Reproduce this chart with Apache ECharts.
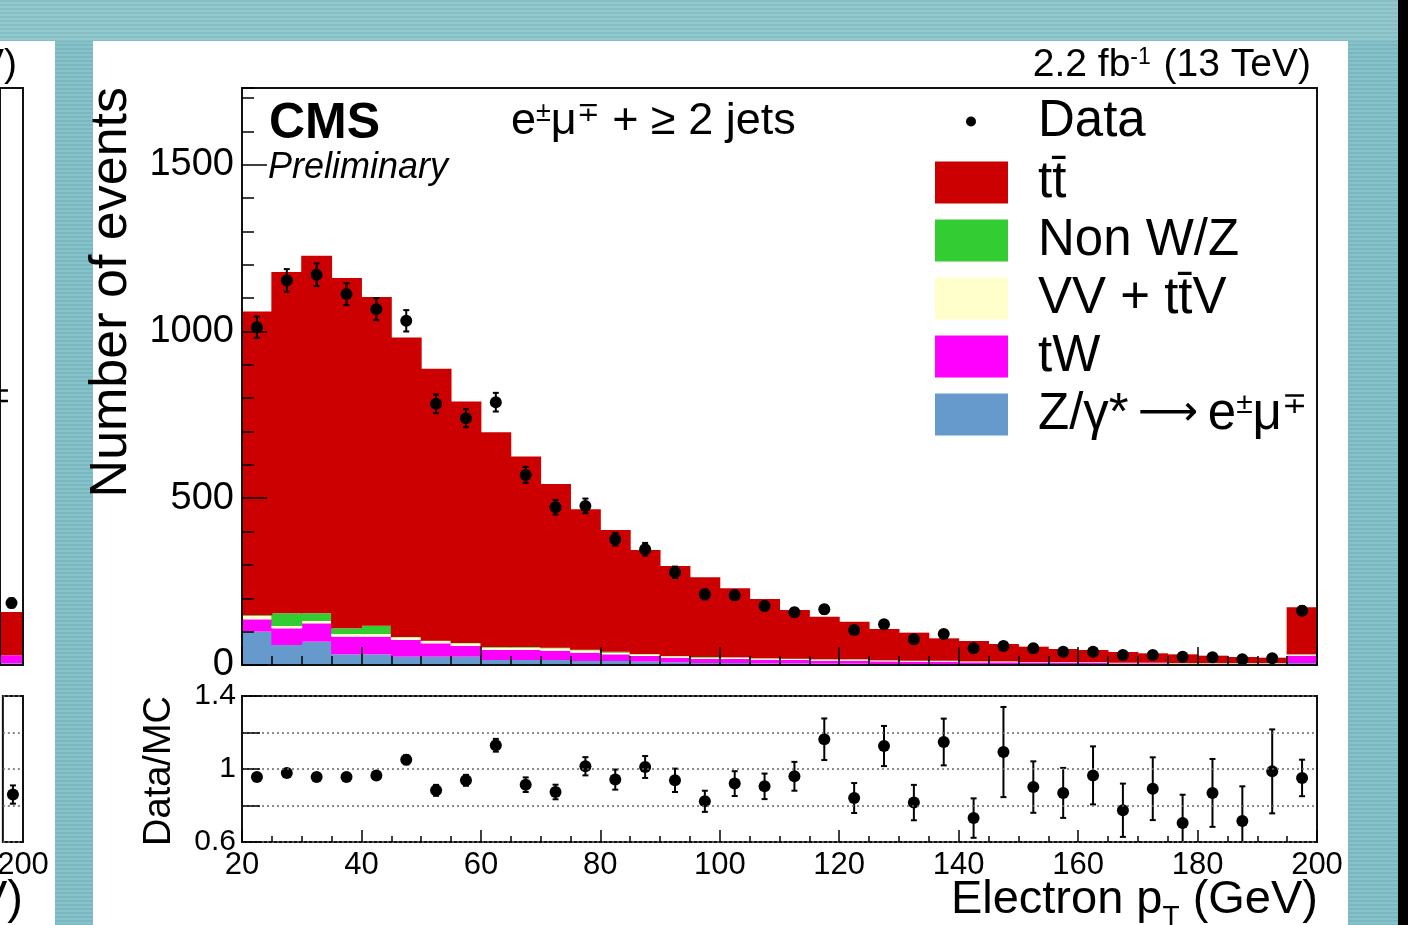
<!DOCTYPE html>
<html>
<head>
<meta charset="utf-8">
<script src="https://cdn.jsdelivr.net/npm/echarts@6/dist/echarts.min.js"></script>
<style>
html,body{margin:0;padding:0;width:1408px;height:925px;overflow:hidden;}
body{background:repeating-linear-gradient(180deg,#79b8c0 0px,#79b8c0 2px,#88c2c9 2px,#88c2c9 4px);position:relative;}
.blk{position:absolute;}
#topband{left:0;top:0;width:1398px;height:41px;background:repeating-linear-gradient(180deg,#85bfc5 0px,#85bfc5 2px,#95c8cc 2px,#95c8cc 4px);}
#leftwhite{left:0;top:41px;width:55px;height:884px;background:#fff;}
#mainwhite{left:93px;top:41px;width:1255px;height:884px;background:#fff;}
#blackstrip{left:1398px;top:0;width:10px;height:925px;background:#000;}
#chart{position:absolute;left:0;top:0;width:1408px;height:925px;}
</style>
</head>
<body>
<div class="blk" id="topband"></div>
<div class="blk" id="leftwhite"></div>
<div class="blk" id="mainwhite"></div>
<div class="blk" id="blackstrip"></div>
<div id="chart"></div>
<script>
// ---------------- data ----------------
const binCenters = [22.5,27.5,32.5,37.5,42.5,47.5,52.5,57.5,62.5,67.5,72.5,77.5,82.5,87.5,92.5,97.5,102.5,107.5,112.5,117.5,122.5,127.5,132.5,137.5,142.5,147.5,152.5,157.5,162.5,167.5,172.5,177.5,182.5,187.5,192.5,197.5];
const BIN_W = 5;
const zgamma = [100,60,70,32,32,25,25,25,15,15,15,12,12,10,8,6,6,5,5,4,4,3,3,3,2,2,2,2,2,1,1,1,1,1,1,6];
const tW     = [37,50,55,53,53,50,40,32,30,30,28,25,20,17,14,12,12,11,10,9,9,8,7,7,6,6,5,5,5,4,4,3,3,3,3,22];
const vvTTV  = [10,7,7,8,8,8,7,8,7,7,7,7,5,5,4,4,4,3,3,3,3,2,2,2,2,2,1,1,1,1,1,1,1,1,1,3];
const nonWZ  = [2,38,23,17,25,1,1,1,2,2,2,2,3,1,1,2,1,1,1,1,1,1,1,1,1,1,1,1,1,1,1,1,1,1,1,1];
const ttbar  = [911,1023,1072,1050,985,898,815,724,644,571,491,421,365,312,270,239,207,178,146,128,113,94,84,67,61,52,46,39,36,32,28,26,22,18,16,141];
const dataVals = [1013,1153,1170,1112,1067,1032,783,740,788,570,473,477,377,347,278,212,209,177,158,167,105,122,77,93,50,57,50,40,40,30,30,25,23,17,20,163];
const dataErr  = [32,34,34,33,33,32,28,27,28,24,22,22,19,19,17,15,14,13,13,13,10,11,9,10,7,8,7,6,6,5,5,5,5,4,4,13];
const ratioVals = [0.956,0.978,0.956,0.956,0.965,1.051,0.883,0.938,1.13,0.914,0.874,1.015,0.942,1.011,0.938,0.823,0.920,0.905,0.960,1.163,0.841,1.126,0.816,1.148,0.731,1.093,0.901,0.869,0.965,0.774,0.892,0.704,0.869,0.715,0.987,0.951];
const ratioErr  = [0.02,0.02,0.02,0.02,0.02,0.025,0.03,0.03,0.035,0.04,0.04,0.05,0.055,0.06,0.064,0.058,0.068,0.07,0.079,0.114,0.082,0.11,0.097,0.128,0.108,0.247,0.141,0.137,0.159,0.146,0.172,0.155,0.186,0.19,0.23,0.10];
// neighbouring (cut-off) panel on the left: only its last bin is visible
const leftCenters = [197.5];
const leftZ = [5];
const leftTW = [24];
const leftTT = [130];
const leftData = [186];
const leftDataErr = [14];
const leftRatio = [0.86];
const leftRatioErr = [0.05];

const NAME_TT = 'tt\u0304';
const NAME_NONWZ = 'Non W/Z';
const NAME_VV = 'VV + tt\u0304V';
const NAME_TW = 'tW';
const NAME_Z = 'Z/\u03b3* \u2192 e\u00b1\u03bc\u2213';

const COLORS = { tt:'#cc0000', nonwz:'#33cc33', vv:'#ffffcc', tw:'#ff00ff', z:'#6699cc' };
const FONT = '"Liberation Sans", Arial, Helvetica, sans-serif';

// ---------------- helpers ----------------
function buildStack(centers, layers) {
  const cum = centers.map(() => 0);
  return layers.map(layer => layer.map((v, i) => {
    const lo = cum[i]; cum[i] += v; return [centers[i], lo, cum[i]];
  }));
}
function histRender(color) {
  return function (params, api) {
    const c = api.value(0), lo = api.value(1), hi = api.value(2);
    if (hi <= lo) return null;
    const p0 = api.coord([c - BIN_W / 2, lo]);
    const p1 = api.coord([c + BIN_W / 2, hi]);
    return { type: 'rect',
      shape: { x: p0[0] - 0.5, y: p1[1], width: p1[0] - p0[0] + 1, height: p0[1] - p1[1] },
      style: { fill: color } };
  };
}
function errRender(capHalf) {
  return function (params, api) {
    const c = api.value(0), v = api.value(1), e = api.value(2);
    const cs = params.coordSys;
    const pT = api.coord([c, v + e]), pB = api.coord([c, v - e]);
    const yTop = Math.max(pT[1], cs.y), yBot = Math.min(pB[1], cs.y + cs.height);
    const x = pT[0];
    const st = { stroke: '#000', lineWidth: 2 };
    const ch = [{ type: 'line', shape: { x1: x, y1: yTop, x2: x, y2: yBot }, style: st }];
    if (pT[1] >= cs.y) ch.push({ type: 'line', shape: { x1: x - capHalf, y1: yTop, x2: x + capHalf, y2: yTop }, style: st });
    if (pB[1] <= cs.y + cs.height) ch.push({ type: 'line', shape: { x1: x - capHalf, y1: yBot, x2: x + capHalf, y2: yBot }, style: st });
    return { type: 'group', children: ch };
  };
}
function zip3(a, b, c) { return a.map((v, i) => [v, b[i], c[i]]); }
function zip2(a, b) { return a.map((v, i) => [v, b[i]]); }

const mainStack = buildStack(binCenters, [zgamma, tW, vvTTV, nonWZ, ttbar]);
const leftStack = buildStack(leftCenters, [leftZ, leftTW, leftTT]);

function histSeries(name, data, color, xi, yi) {
  return { type: 'custom', name: name, xAxisIndex: xi, yAxisIndex: yi, data: data,
    renderItem: histRender(color), itemStyle: { color: color }, z: 2, silent: true,
    encode: { x: 0, y: [1, 2] } };
}
function errSeries(name, data, xi, yi, cap) {
  return { type: 'custom', name: name, xAxisIndex: xi, yAxisIndex: yi, data: data,
    renderItem: errRender(cap), z: 3, silent: true, encode: { x: 0, y: 1 } };
}
function dotSeries(name, data, xi, yi, size) {
  return { type: 'scatter', name: name, xAxisIndex: xi, yAxisIndex: yi, data: data,
    symbol: 'circle', symbolSize: size, itemStyle: { color: '#000', opacity: 1 }, z: 4, silent: true };
}

const tickStyle = { color: '#000', width: 1.5 };
const plainNum = function (v) { return String(v); };

const option = {
  animation: false,
  backgroundColor: 'transparent',
  textStyle: { fontFamily: FONT },
  grid: [
    { left: 242, top: 88, width: 1075, height: 577, show: true, borderColor: '#111', borderWidth: 2, backgroundColor: 'transparent', z: 5 },
    { left: 242, top: 696, width: 1075, height: 146, show: true, borderColor: '#111', borderWidth: 2, backgroundColor: 'transparent', z: 5 },
    { left: -3, top: 88, width: 26, height: 577, show: true, borderColor: '#111', borderWidth: 2, backgroundColor: 'transparent', z: 5 },
    { left: -3, top: 696, width: 26, height: 146, show: true, borderColor: '#111', borderWidth: 2, backgroundColor: 'transparent', z: 5 }
  ],
  xAxis: [
    { gridIndex: 0, type: 'value', min: 20, max: 200, interval: 20, z: 10,
      axisLine: { show: false }, axisLabel: { show: false },
      axisTick: { inside: true, length: 18, lineStyle: tickStyle },
      minorTick: { show: true, splitNumber: 4, length: 9, lineStyle: tickStyle },
      splitLine: { show: false } },
    { gridIndex: 1, type: 'value', min: 20, max: 200, interval: 20, z: 10,
      axisLine: { show: false },
      axisLabel: { show: true, fontSize: 31, color: '#000', margin: 8, fontFamily: FONT, formatter: plainNum },
      axisTick: { inside: true, length: 12, lineStyle: tickStyle },
      minorTick: { show: true, splitNumber: 4, length: 6, lineStyle: tickStyle },
      splitLine: { show: false } },
    { gridIndex: 2, type: 'value', min: 195, max: 200, interval: 5, z: 10,
      axisLine: { show: false }, axisLabel: { show: false }, axisTick: { show: false }, splitLine: { show: false } },
    { gridIndex: 3, type: 'value', min: 195, max: 200, interval: 5, z: 10,
      axisLine: { show: false },
      axisLabel: { show: true, fontSize: 31, color: '#000', margin: 8, fontFamily: FONT, showMinLabel: false, formatter: plainNum },
      axisTick: { show: false }, splitLine: { show: false } }
  ],
  yAxis: [
    { gridIndex: 0, type: 'value', min: 0, max: 1730, interval: 500, z: 10,
      axisLine: { show: false },
      axisLabel: { fontSize: 38, color: '#000', margin: 8, fontFamily: FONT, showMaxLabel: false, formatter: plainNum },
      axisTick: { inside: true, length: 25, lineStyle: tickStyle },
      splitLine: { show: false } },
    { gridIndex: 1, type: 'value', min: 0.6, max: 1.4, interval: 0.2, z: 10,
      axisLine: { show: false },
      axisLabel: { fontSize: 30, color: '#000', margin: 6, fontFamily: FONT,
        formatter: function (v) {
          if (Math.abs(v - 1) < 1e-6) return '1';
          if (Math.abs(v - 0.6) < 1e-6) return '0.6';
          if (Math.abs(v - 1.4) < 1e-6) return '1.4';
          return '';
        } },
      axisTick: { inside: true, length: 18, lineStyle: tickStyle },
      splitLine: { show: true, lineStyle: { color: '#666', width: 1.5, type: [2, 3] } } },
    { gridIndex: 2, type: 'value', min: 0, max: 1730, interval: 500, z: 10,
      axisLine: { show: false }, axisLabel: { show: false }, axisTick: { show: false }, splitLine: { show: false } },
    { gridIndex: 3, type: 'value', min: 0.6, max: 1.4, interval: 0.2, z: 10,
      axisLine: { show: false }, axisLabel: { show: false }, axisTick: { show: false },
      splitLine: { show: true, lineStyle: { color: '#666', width: 1.5, type: [2, 3] } } },
    // minor ticks of the main panel (every 100 events)
    { gridIndex: 0, type: 'value', position: 'left', offset: 0, min: 0, max: 1730, interval: 100, z: 10,
      axisLine: { show: false }, axisLabel: { show: false },
      axisTick: { inside: true, length: 12, lineStyle: tickStyle }, splitLine: { show: false } }
  ],
  legend: [
    { data: ['Data'], orient: 'vertical', left: 966, top: 96, itemWidth: 10, itemHeight: 10,
      icon: 'circle', selectedMode: false, padding: 0,
      textStyle: { fontSize: 51, lineHeight: 42, color: '#000', fontFamily: FONT, padding: [0, 0, 8, 57] } },
    { data: [NAME_TT, NAME_NONWZ, NAME_VV, NAME_TW, NAME_Z], orient: 'vertical', left: 935, top: 157,
      itemWidth: 73, itemHeight: 42, itemGap: 7, icon: 'rect', selectedMode: false, padding: 0,
      formatter: function (name) {
        if (name === NAME_Z) return 'Z/\u03b3*{gap| }{arr|\u27f6}{gap| }e{sup|\u00b1}\u03bc{sup|\u2213}';
        return name;
      },
      textStyle: { fontSize: 51, lineHeight: 42, color: '#000', fontFamily: FONT, padding: [0, 0, 0, 25],
        rich: {
          sup: { fontSize: 30, lineHeight: 42, padding: [0, 0, 20, 0], color: '#000', fontFamily: FONT },
          gap: { fontSize: 34, lineHeight: 42, color: '#000', fontFamily: FONT },
          arr: { fontSize: 42, lineHeight: 42, color: '#000', fontFamily: '"DejaVu Sans", ' + FONT }
        } } }
  ],
  series: [
    histSeries(NAME_Z, mainStack[0], COLORS.z, 0, 0),
    histSeries(NAME_TW, mainStack[1], COLORS.tw, 0, 0),
    histSeries(NAME_VV, mainStack[2], COLORS.vv, 0, 0),
    histSeries(NAME_NONWZ, mainStack[3], COLORS.nonwz, 0, 0),
    histSeries(NAME_TT, mainStack[4], COLORS.tt, 0, 0),
    errSeries('dataErr', zip3(binCenters, dataVals, dataErr), 0, 0, 3),
    dotSeries('Data', zip2(binCenters, dataVals), 0, 0, 12),
    errSeries('ratioErr', zip3(binCenters, ratioVals, ratioErr), 1, 1, 3),
    dotSeries('ratio', zip2(binCenters, ratioVals), 1, 1, 12),
    histSeries('leftZ', leftStack[0], COLORS.z, 2, 2),
    histSeries('leftTW', leftStack[1], COLORS.tw, 2, 2),
    histSeries('leftTT', leftStack[2], COLORS.tt, 2, 2),
    errSeries('leftDataErr', zip3(leftCenters, leftData, leftDataErr), 2, 2, 3),
    dotSeries('leftData', zip2(leftCenters, leftData), 2, 2, 12),
    errSeries('leftRatioErr', zip3(leftCenters, leftRatio, leftRatioErr), 3, 3, 3),
    dotSeries('leftRatio', zip2(leftCenters, leftRatio), 3, 3, 12)
  ],
  graphic: [
    { type: 'text', x: 112, y: 87, rotation: Math.PI / 2, z: 20,
      style: { text: 'Number of events', fill: '#000', font: '52px ' + FONT, align: 'right', verticalAlign: 'middle', textAlign: 'right', textVerticalAlign: 'middle' } },
    { type: 'text', x: 160, y: 696, rotation: Math.PI / 2, z: 20,
      style: { text: 'Data/MC', fill: '#000', font: '38px ' + FONT, align: 'right', verticalAlign: 'middle', textAlign: 'right', textVerticalAlign: 'middle' } },
    { type: 'text', x: 269, y: 124, z: 20,
      style: { text: 'CMS', fill: '#000', font: 'bold 50px ' + FONT, align: 'left', verticalAlign: 'middle', textAlign: 'left', textVerticalAlign: 'middle' } },
    { type: 'text', x: 268, y: 168, z: 20,
      style: { text: 'Preliminary', fill: '#000', font: 'italic 36px ' + FONT, align: 'left', verticalAlign: 'middle', textAlign: 'left', textVerticalAlign: 'middle' } },
    { type: 'text', x: 511, y: 122, z: 20,
      style: { text: 'e{sup|\u00b1}\u03bc{sup|\u2213} + \u2265 2 jets', fill: '#000', font: '45px ' + FONT,
        align: 'left', verticalAlign: 'middle', textAlign: 'left', textVerticalAlign: 'middle',
        rich: { sup: { fontSize: 27, padding: [0, 0, 17, 0], fill: '#000', fontFamily: FONT } } } },
    { type: 'text', x: 1311, y: 65, z: 20,
      style: { text: '2.2 fb{sup|-1} (13 TeV)', fill: '#000', font: '39px ' + FONT,
        align: 'right', verticalAlign: 'middle', textAlign: 'right', textVerticalAlign: 'middle',
        rich: { sup: { fontSize: 23, padding: [0, 2, 15, 0], fill: '#000', fontFamily: FONT } } } },
    { type: 'text', x: 1318, y: 900, z: 20,
      style: { text: 'Electron p{sub|T} (GeV)', fill: '#000', font: '47px ' + FONT,
        align: 'right', verticalAlign: 'middle', textAlign: 'right', textVerticalAlign: 'middle',
        rich: { sub: { fontSize: 28, padding: [34, 0, 0, 0], fill: '#000', fontFamily: FONT } } } },
    // fragments of the neighbouring slide panel, cut by the left edge
    { type: 'text', x: 17, y: 65, z: 20,
      style: { text: 'TeV)', fill: '#000', font: '39px ' + FONT, align: 'right', verticalAlign: 'middle', textAlign: 'right', textVerticalAlign: 'middle' } },
    { type: 'text', x: 11, y: 410, z: 20,
      style: { text: 'e\u00b1\u03bc{sup|\u2213}', fill: '#000', font: '51px ' + FONT, align: 'right', verticalAlign: 'middle', textAlign: 'right', textVerticalAlign: 'middle',
        rich: { sup: { fontSize: 30, padding: [0, 0, 20, 0], fill: '#000', fontFamily: FONT } } } },
    { type: 'text', x: 23, y: 900, z: 20,
      style: { text: '(GeV)', fill: '#000', font: '47px ' + FONT, align: 'right', verticalAlign: 'middle', textAlign: 'right', textVerticalAlign: 'middle' } }
  ]
};

const chart = echarts.init(document.getElementById('chart'), null, { renderer: 'canvas' });
chart.setOption(option);
</script>
</body>
</html>
